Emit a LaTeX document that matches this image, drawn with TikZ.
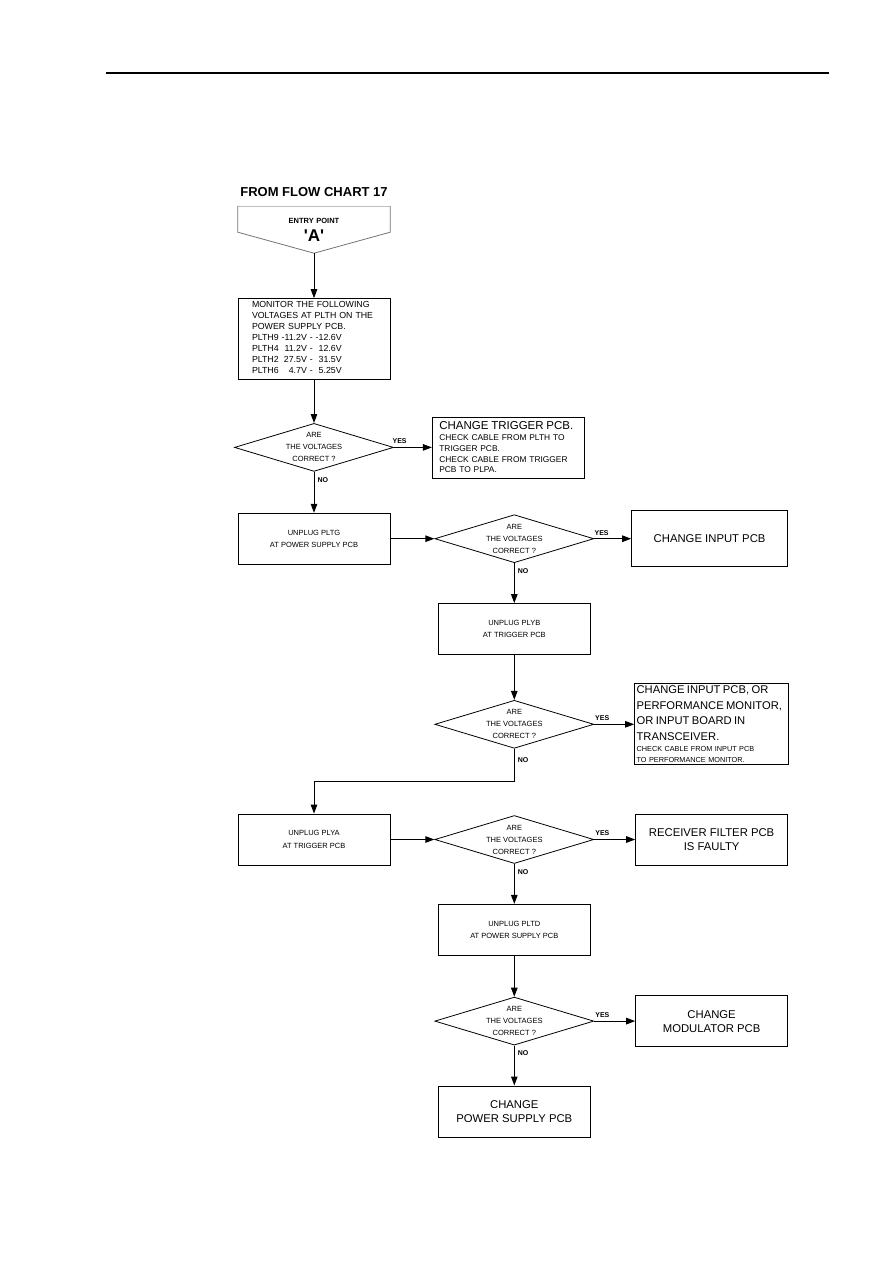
\documentclass[tikz,border=0pt]{standalone}
\usepackage{fontspec}
\setmainfont{Liberation Sans}
\newfontfamily\plainsans{Liberation Sans}
\usetikzlibrary{arrows.meta, positioning, shapes.geometric}

\begin{document}
\begin{tikzpicture}[
  x=1pt, y=-1pt,
  action/.style={
    rectangle,
    draw=black,
    line width=0.8pt,
    align=center,
    minimum width=152pt,
    minimum height=51pt,
    inner sep=2pt,
    font=\fontsize{7.5}{12.5}\selectfont
  },
  result/.style={
    action,
    font=\fontsize{11.3}{14}\selectfont
  },
  notes/.style={
    action,
    align=left,
    font=\fontsize{8.4}{10.8}\selectfont
  },
  decision/.style={
    diamond,
    draw=black,
    line width=0.8pt,
    aspect=3.3,
    minimum width=159pt,
    minimum height=48pt,
    inner sep=0pt,
    align=center,
    font=\fontsize{7.5}{12}\selectfont
  },
  arrow/.style={-{Triangle[length=9pt,width=6.5pt]}, line width=1pt},
  answer/.style={font=\bfseries\fontsize{7}{8}\selectfont, inner sep=3pt}
]
\useasboundingbox (0,0) rectangle (893,1263);

% page rule
\coordinate (ruleL) at (106,73);
\coordinate (ruleR) at (829,73);
\draw[line width=1.3pt] (ruleL) -- (ruleR);

% entry connector
\node[minimum width=152pt, minimum height=47pt, inner sep=0pt, text width=150pt, align=center,
  font=\fontsize{7.5}{18}\selectfont] (entry) at (314,229.5)
  {{\bfseries ENTRY POINT}\\{\plainsans\bfseries\fontsize{17}{18}\selectfont 'A'}};
\draw[draw=black!25, line width=0.6pt] (entry.north west) -- (entry.north east);
\draw[draw=black!55, line width=0.8pt] (entry.north west) -- ([yshift=21pt]entry.south west)
  -- (entry.south) -- ([yshift=21pt]entry.south east) -- (entry.north east);
\node[font=\bfseries\fontsize{13}{15}\selectfont, inner sep=0pt, above=9pt of entry] (source) {FROM FLOW CHART 17};

\node[notes, below=45pt of entry, minimum height=81pt, text width=124pt, inner xsep=14pt,
  font=\fontsize{8.8}{11}\selectfont] (monitor)
  {MONITOR THE FOLLOWING\\VOLTAGES AT PLTH ON THE\\POWER SUPPLY PCB.\\
   \begin{tabular}[t]{@{}l@{\ }r@{\ -\ }r@{}}
   PLTH9 & -11.2V & -12.6V\\
   PLTH4 & 11.2V & 12.6V\\
   PLTH2 & 27.5V & 31.5V\\
   PLTH6 & 4.7V & 5.25V
   \end{tabular}};
\node[decision, below=43pt of monitor] (d1) {ARE\\THE VOLTAGES\\CORRECT ?};
\node[notes, right=38pt of d1, minimum height=61pt, text width=138pt, inner xsep=7pt] (trigger)
  {{\fontsize{11.5}{14}\selectfont CHANGE TRIGGER PCB.\par}CHECK CABLE FROM PLTH TO\\TRIGGER PCB.\\CHECK CABLE FROM TRIGGER\\PCB TO PLPA.};

\node[action, below=41pt of d1] (pltg) {UNPLUG PLTG\\AT POWER SUPPLY PCB};
\node[decision, right=44pt of pltg] (d2) {ARE\\THE VOLTAGES\\CORRECT ?};
\node[result, right=37pt of d2, minimum width=156pt, minimum height=56pt] (input) {CHANGE INPUT PCB};

\node[action, below=40pt of d2] (plyb) {UNPLUG PLYB\\AT TRIGGER PCB};
\node[decision, below=45pt of plyb] (d3) {ARE\\THE VOLTAGES\\CORRECT ?};
\node[notes, right=40pt of d3, minimum height=81pt, text width=150pt, inner xsep=2pt,
  font=\fontsize{7.3}{11}\selectfont] (board)
  {{\fontsize{11.2}{15.5}\selectfont CHANGE INPUT PCB, OR\\PERFORMANCE MONITOR,\\OR INPUT BOARD IN\\TRANSCEIVER.\par}CHECK CABLE FROM INPUT PCB\\TO PERFORMANCE MONITOR.};

\node[action, below=249pt of pltg] (plya) {UNPLUG PLYA\\AT TRIGGER PCB};
\node[decision, right=44pt of plya] (d4) {ARE\\THE VOLTAGES\\CORRECT ?};
\node[result, right=41pt of d4] (filter) {RECEIVER FILTER PCB\\IS FAULTY};

\node[action, below=40pt of d4] (pltd) {UNPLUG PLTD\\AT POWER SUPPLY PCB};
\node[decision, below=41pt of pltd] (d5) {ARE\\THE VOLTAGES\\CORRECT ?};
\node[result, right=41pt of d5] (modulator) {CHANGE\\MODULATOR PCB};
\node[result, below=40pt of d5] (psu) {CHANGE\\POWER SUPPLY PCB};

\draw[arrow] (entry.south) -- (monitor);
\draw[arrow] (monitor) -- (d1);
\draw[arrow] (d1) -- node[answer, above, pos=0.15]{YES} (trigger);
\draw[arrow] (d1) -- node[answer, right, pos=0.2]{NO} (pltg);
\draw[arrow] (pltg) -- (d2);
\draw[arrow] (d2) -- node[answer, above, pos=0.2]{YES} (input);
\draw[arrow] (d2) -- node[answer, right, pos=0.2]{NO} (plyb);
\draw[arrow] (plyb) -- (d3);
\draw[arrow] (d3) -- node[answer, above, pos=0.2]{YES} (board);
\draw[arrow] (d3.south) -- node[answer, right, pos=0.36]{NO} ++(0,-33pt) -| (plya.north);
\draw[arrow] (plya) -- (d4);
\draw[arrow] (d4) -- node[answer, above, pos=0.2]{YES} (filter);
\draw[arrow] (d4) -- node[answer, right, pos=0.2]{NO} (pltd);
\draw[arrow] (pltd) -- (d5);
\draw[arrow] (d5) -- node[answer, above, pos=0.2]{YES} (modulator);
\draw[arrow] (d5) -- node[answer, right, pos=0.2]{NO} (psu);

\end{tikzpicture}
\end{document}
